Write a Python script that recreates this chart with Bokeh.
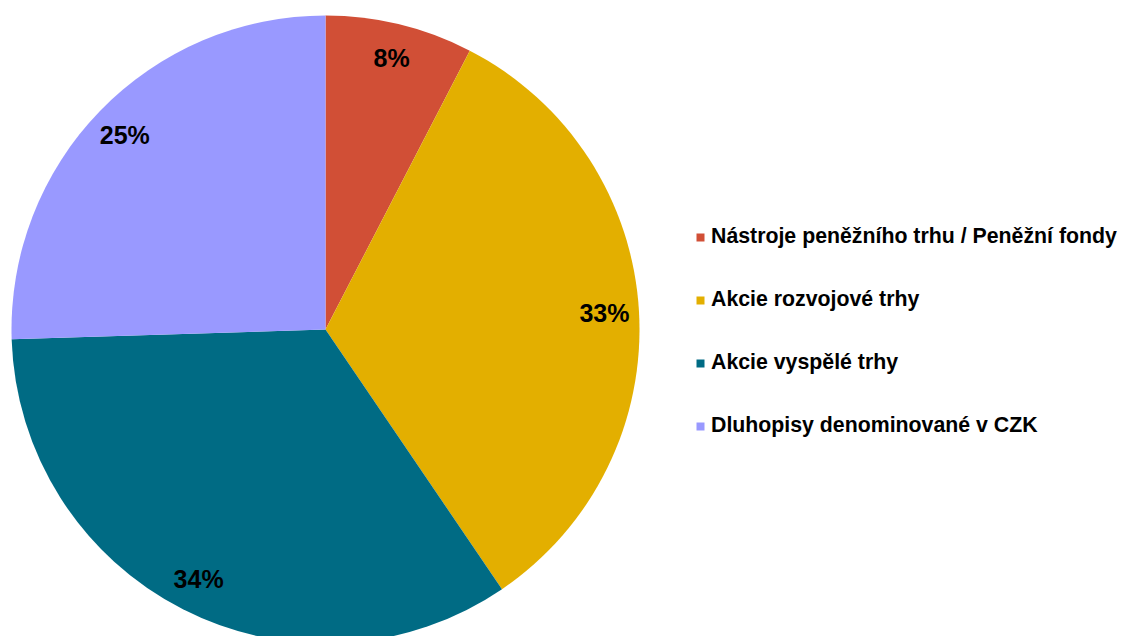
import math
from bokeh.plotting import figure
from bokeh.models import Range1d, ColumnDataSource, Legend, LegendItem
from bokeh.core.properties import value
from bokeh.embed import file_html
from bokeh.resources import INLINE

categories = [
    "Nástroje peněžního trhu / Peněžní fondy",
    "Akcie rozvojové trhy",
    "Akcie vyspělé trhy",
    "Dluhopisy denominované v CZK",
]
shares = [7.6, 32.9, 34.0, 25.5]
labels = ["8%", "33%", "34%", "25%"]
colors = ["#D14F36", "#E3AF00", "#006B84", "#9999FF"]

W, H = 1122, 636
p = figure(width=W, height=H, output_backend="svg", toolbar_location=None,
           x_range=Range1d(0, W), y_range=Range1d(636 - H, 636),
           min_border=0, border_fill_color="white", outline_line_color=None)
p.axis.visible = False
p.grid.visible = False

cx, cy, r = 325, 307, 314
total = sum(shares)
starts, ends, lx, ly = [], [], [], []
cum = 0.0
for s in shares:
    a0 = math.pi / 2 - 2 * math.pi * cum / total
    cum += s
    a1 = math.pi / 2 - 2 * math.pi * cum / total
    starts.append(a0)
    ends.append(a1)
    mid = (a0 + a1) / 2
    lx.append(cx + 0.89 * r * math.cos(mid))
    ly.append(cy + 0.89 * r * math.sin(mid))

items = []
for i in range(len(shares)):
    src = ColumnDataSource(dict(x=[cx], y=[cy], s=[starts[i]], e=[ends[i]]))
    rend = p.wedge(x="x", y="y", radius=r, start_angle="s", end_angle="e",
                   direction="clock", fill_color=colors[i], line_color=None,
                   source=src)
    items.append(LegendItem(label=categories[i], renderers=[rend]))

lsrc = ColumnDataSource(dict(x=lx, y=ly, t=labels))
p.text(x="x", y="y", text="t", source=lsrc, text_align="center",
       text_baseline="middle", text_font=value("Liberation Sans"),
       text_font_style="bold", text_font_size="25px", text_color="black")

legend = Legend(items=items, location=(695, 198), padding=0, margin=0,
                border_line_color=None, background_fill_alpha=0,
                glyph_width=10, glyph_height=10, label_standoff=6,
                label_height=25, spacing=38,
                label_text_font="Liberation Sans", label_text_font_style="bold",
                label_text_font_size="21.3px", label_text_color="black")
p.add_layout(legend)

open("out.html", "w").write(file_html(p, INLINE))
